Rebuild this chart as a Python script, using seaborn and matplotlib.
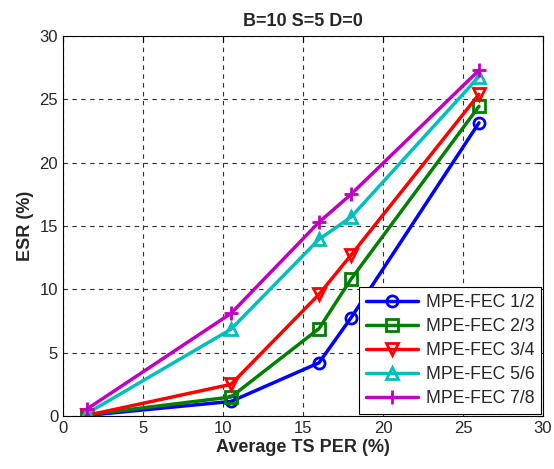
import matplotlib
matplotlib.use("Agg")
import matplotlib.pyplot as plt
import seaborn as sns
import pandas as pd

x_vals = [1.5, 10.5, 16.0, 18.0, 26.0]
esr_12 = [0.05, 1.15, 4.2, 7.75, 23.15]
esr_23 = [0.1, 1.5, 6.9, 10.8, 24.45]
esr_34 = [0.05, 2.5, 9.6, 12.7, 25.4]
esr_56 = [0.2, 6.85, 13.95, 15.7, 26.8]
esr_78 = [0.55, 8.1, 15.3, 17.5, 27.3]
labels = ["MPE-FEC 1/2", "MPE-FEC 2/3", "MPE-FEC 3/4", "MPE-FEC 5/6", "MPE-FEC 7/8"]
series = [esr_12, esr_23, esr_34, esr_56, esr_78]
colors = ["#0000ff", "#007f00", "#ff0000", "#00bfbf", "#bf00bf"]
markers = ["o", "s", "v", "^", "+"]
xticks = [0, 5, 10, 15, 20, 25, 30]
yticks = [0, 5, 10, 15, 20, 25, 30]

sns.set_style("white")
plt.rcParams['font.family'] = ['Liberation Sans', 'DejaVu Sans']

fig = plt.figure(figsize=(5.54, 4.69), dpi=100)
ax = fig.add_axes([63/554, 1-416/469, 480/554, 380/469])

for lab, ys, c, m in zip(labels, series, colors, markers):
    df = pd.DataFrame({"x": x_vals, "y": ys})
    ms = 10 if m == "+" else 8
    sns.lineplot(data=df, x="x", y="y", ax=ax, color=c, marker=m, lw=2.5,
                 mfc="none", mec=c, mew=2, ms=ms, label=lab)

ax.set_xlim(0, 30)
ax.set_ylim(0, 30)
ax.set_xticks(xticks)
ax.set_yticks(yticks)
ax.tick_params(direction="in", top=True, right=True, labelsize=12, length=4, color="black")
ax.grid(True, color="#303030", linestyle=(0, (4, 4)), linewidth=0.8)
for s in ax.spines.values():
    s.set_color("black")
    s.set_linewidth(0.8)
ax.set_xlabel("Average TS PER (%)", fontsize=13, fontweight="bold", labelpad=2)
ax.set_ylabel("ESR (%)", fontsize=13, fontweight="bold", labelpad=4)
ax.set_title("B=10 S=5 D=0", fontsize=13, fontweight="bold", pad=7)

leg = ax.legend(loc="lower right", fontsize=12.7, frameon=True, fancybox=False,
                edgecolor="black", handlelength=3, borderaxespad=0.1,
                labelspacing=0.4, handletextpad=0.4, borderpad=0.4)
leg.get_frame().set_linewidth(0.8)
leg.get_frame().set_alpha(1)

fig.savefig("out.png", dpi=100)
